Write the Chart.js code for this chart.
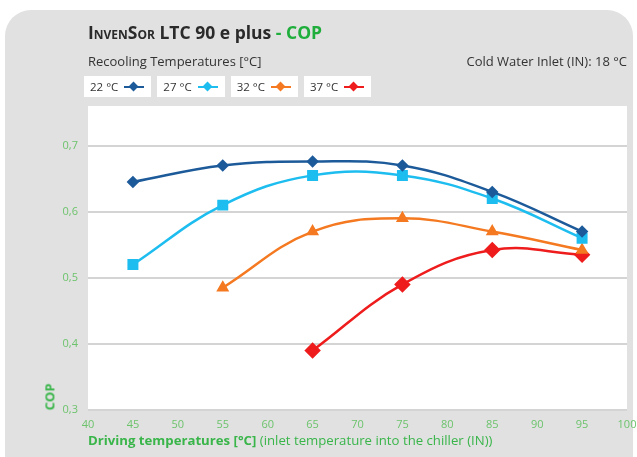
<!DOCTYPE html>
<html>
<head>
<meta charset="utf-8">
<script src="https://cdn.jsdelivr.net/npm/chart.js@4.4.0/dist/chart.umd.min.js"></script>
<style>
  body { margin: 0; background: #fff; font-family: "Open Sans", sans-serif; }
  #wrap { position: relative; width: 637px; height: 457px; overflow: hidden; }
  #panel { position: absolute; left: 5px; top: 10px; width: 628px; height: 470px; background: #e1e1e1; border-radius: 26px; }
  #chart { position: absolute; left: 0; top: 0; }
  .txt { position: absolute; white-space: nowrap; color: #333; }
  #title { left: 88px; top: 20px; font-size: 17.5px; font-weight: bold; color: #2a2a2a; }
  #title .sc { font-variant: small-caps; }
  #title .g { color: #1fae3c; }
  #sub { left: 88px; top: 52px; font-size: 13px; }
  #inlet { right: 10px; top: 52px; font-size: 13px; }
  #legend { position: absolute; left: 84px; top: 76px; display: flex; gap: 6px; }
  .item { background: #fff; height: 21px; padding: 0 7px 0 6px; display: flex; align-items: center; font-size: 11.5px; color: #333; }
  .mk { position: relative; width: 20px; height: 10px; margin-left: 6px; }
  .mk .ln { position: absolute; left: 0; right: 0; top: 4px; height: 2px; }
  .mk .pt { position: absolute; left: 6px; top: 1px; width: 7px; height: 7px; transform: rotate(45deg); }
  #xt { left: 88px; top: 431px; font-size: 13.2px; color: #39b54a; }
  #xt b { font-weight: bold; }
  #yt { left: 36px; top: 388px; font-size: 13px; font-weight: bold; color: #39b54a; transform: rotate(-90deg); transform-origin: center; }
</style>
</head>
<body>
<div id="wrap">
  <div id="panel"></div>
  <canvas id="chart" width="637" height="457"></canvas>
  <div class="txt" id="title"><span class="sc">InvenSor</span> LTC 90 e plus<span class="g"> - COP</span></div>
  <div class="txt" id="sub">Recooling Temperatures [°C]</div>
  <div class="txt" id="inlet">Cold Water Inlet (IN): 18 °C</div>
  <div id="legend"></div>
  <div class="txt" id="xt"><b>Driving temperatures [°C]</b> (inlet temperature into the chiller (IN))</div>
  <div class="txt" id="yt">COP</div>
</div>
<script>
const drivingTemps = [45, 55, 65, 75, 85, 95];
const recoolingLabels = ['22 °C', '27 °C', '32 °C', '37 °C'];
const cop22 = [0.645, 0.670, 0.676, 0.670, 0.630, 0.570];
const cop27 = [0.520, 0.610, 0.655, 0.655, 0.620, 0.560];
const cop32 = [null, 0.485, 0.570, 0.590, 0.570, 0.542];
const cop37 = [null, null, 0.390, 0.490, 0.542, 0.535];
const yTicks = [0.3, 0.4, 0.5, 0.6, 0.7];
const xTicks = [40, 45, 50, 55, 60, 65, 70, 75, 80, 85, 90, 95, 100];

const colors = ['#1c5a9a', '#1dbdf0', '#f47920', '#ee1c1c'];
const styles = ['rectRot', 'rect', 'triangle', 'rectRot'];
const radii = [4.5, 6, 5, 6.5];
const series = [cop22, cop27, cop32, cop37];

function toPoints(vals) {
    const pts = [];
    vals.forEach((v, i) => { if (v !== null) pts.push({ x: drivingTemps[i], y: v }); });
    return pts;
}

// html legend with white boxes
const legend = document.getElementById('legend');
recoolingLabels.forEach((lab, i) => {
    const d = document.createElement('div');
    d.className = 'item';
    d.innerHTML = lab + '<span class="mk"><span class="ln" style="background:' + colors[i] + '"></span>' +
        '<span class="pt" style="background:' + colors[i] + '"></span></span>';
    legend.appendChild(d);
});

const plotBg = {
    id: 'plotBg',
    beforeDraw(chart) {
        const a = chart.chartArea;
        const ctx = chart.ctx;
        ctx.save();
        ctx.fillStyle = '#ffffff';
        ctx.fillRect(a.left, a.top, a.right - a.left, a.bottom - a.top);
        ctx.restore();
    }
};

const tickGreen = '#6cc36c';

new Chart(document.getElementById('chart'), {
    type: 'line',
    data: {
        datasets: series.map((s, i) => ({
            label: recoolingLabels[i],
            data: toPoints(s),
            borderColor: colors[i],
            backgroundColor: colors[i],
            borderWidth: 2.5,
            pointStyle: styles[i],
            pointRadius: radii[i],
            tension: 0.4
        }))
    },
    options: {
        responsive: false,
        animation: false,
        layout: { padding: { top: 106, right: 10, left: 0, bottom: 0 } },
        plugins: { legend: { display: false }, tooltip: { enabled: false } },
        scales: {
            x: {
                type: 'linear',
                min: 40,
                max: 100,
                afterBuildTicks: (s) => { s.ticks = xTicks.map(v => ({ value: v })); },
                afterFit: (s) => { s.height = 47; s.paddingRight = 0; },
                grid: { display: false, drawTicks: false },
                border: { display: false },
                ticks: { color: tickGreen, font: { family: 'Open Sans', size: 11 }, padding: 8, maxRotation: 0 }
            },
            y: {
                min: 0.3,
                max: 0.76,
                afterBuildTicks: (s) => { s.ticks = yTicks.map(v => ({ value: v })); },
                afterFit: (s) => { s.width = 88; },
                grid: { color: '#d4d4d4', lineWidth: 2, drawTicks: false },
                border: { display: false },
                ticks: {
                    color: tickGreen,
                    font: { family: 'Open Sans', size: 11 },
                    padding: 10,
                    callback: (v) => v.toFixed(1).replace('.', ',')
                }
            }
        }
    },
    plugins: [plotBg]
});
</script>
</body>
</html>
